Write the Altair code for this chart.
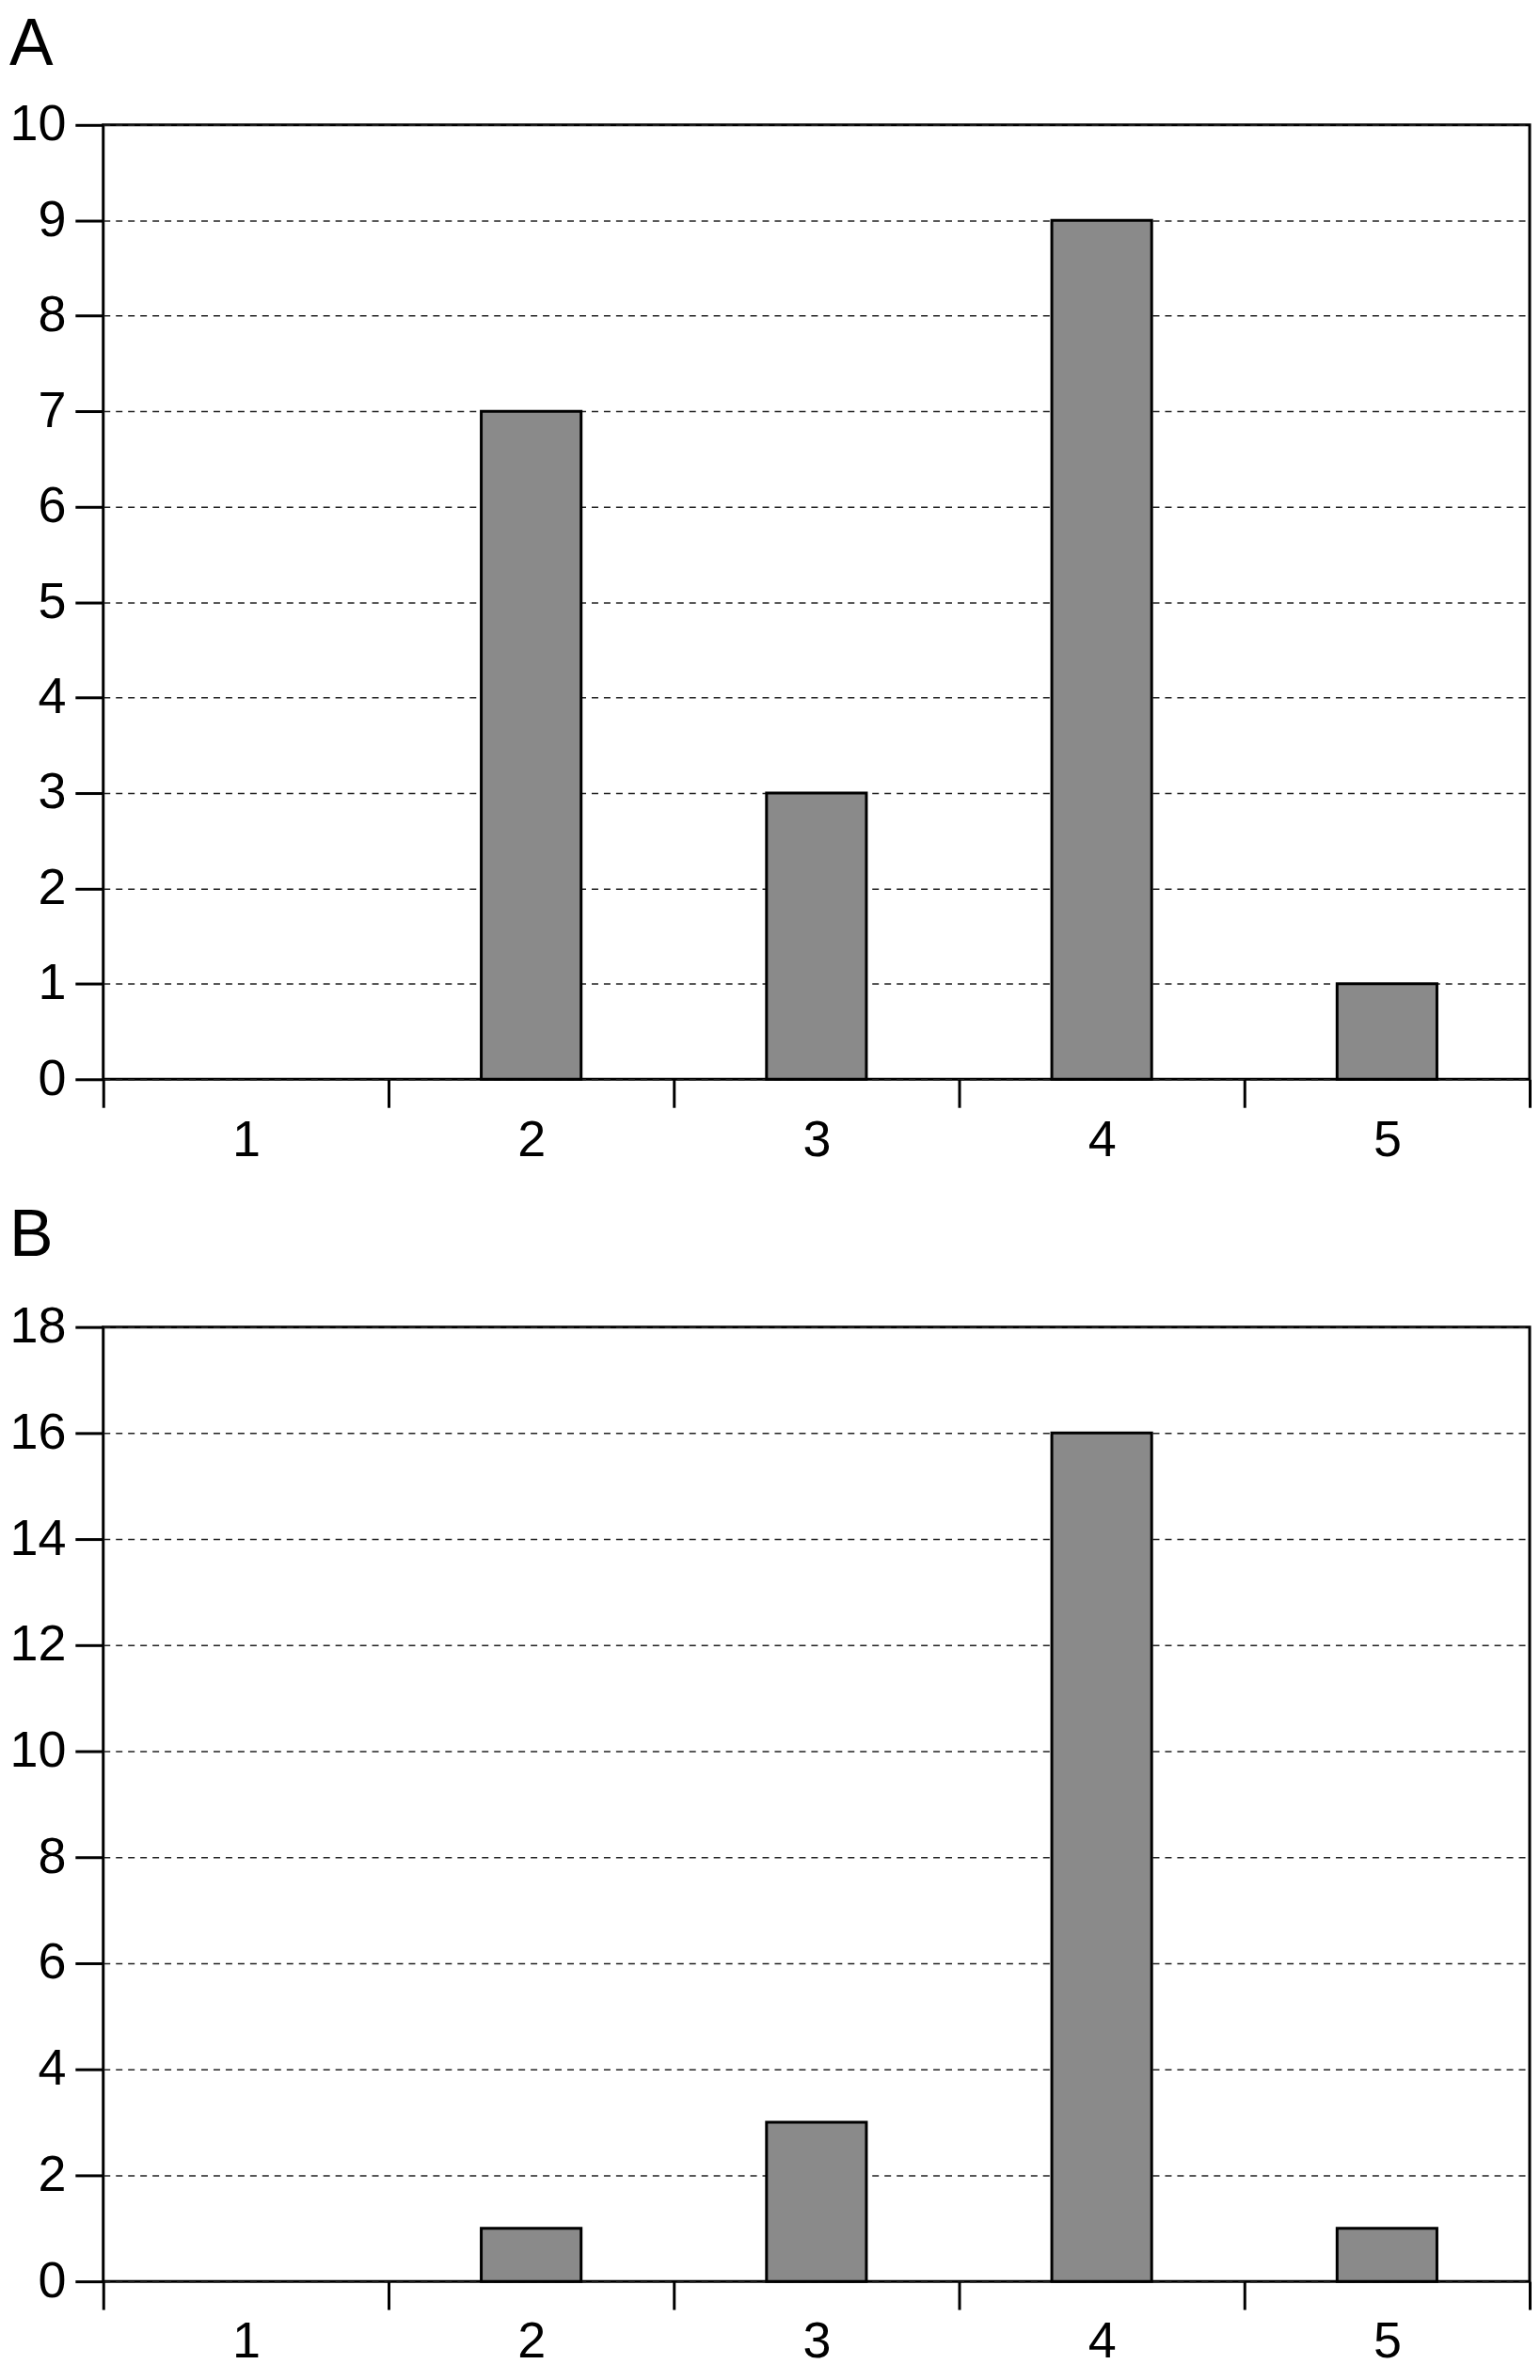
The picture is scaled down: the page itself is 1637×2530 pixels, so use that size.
import altair as alt
import pandas as pd

categories = [1, 2, 3, 4, 5]
values_a = [0, 7, 3, 9, 1]
values_b = [0, 1, 3, 16, 1]
yticks_a = list(range(0, 11, 1))
yticks_b = list(range(0, 19, 2))
xtick_labels = [1, 2, 3, 4, 5]
xtick_edges = [0.5, 1.5, 2.5, 3.5, 4.5, 5.5]
bar_halfwidth = 0.175
panel_titles = ["A", "B"]

FONT = "Liberation Sans"
W, H = 1520, 1017


def panel(values, title, yticks, title_offset):
    df = pd.DataFrame({"cat": categories, "val": values})
    df = df[df.val > 0].copy()
    df["x0"] = df.cat - bar_halfwidth
    df["x1"] = df.cat + bar_halfwidth
    xvals = sorted(xtick_labels + xtick_edges)
    bars = alt.Chart(df).mark_bar(
        color="#8a8a8a", stroke="black", strokeWidth=3
    ).encode(
        x=alt.X(
            "x0:Q",
            scale=alt.Scale(domain=[0.5, 5.5], nice=False, zero=False),
            axis=alt.Axis(
                values=xvals,
                labelExpr="datum.value % 1 === 0 ? '' + datum.value : ''",
                tickOpacity={"condition": {"test": "datum.value % 1 === 0", "value": 0}, "value": 1},
                tickSize=30, tickWidth=3, tickColor="black",
                domain=False, grid=False,
                labelFontSize=54, labelFont=FONT, labelColor="black",
                labelPadding=8, labelOverlap=False, labelFlush=False,
                title=None,
            ),
        ),
        x2="x1:Q",
        y=alt.Y(
            "val:Q",
            scale=alt.Scale(domain=[0, yticks[-1]], nice=False),
            axis=alt.Axis(
                values=yticks,
                tickSize=30, tickWidth=3, tickColor="black",
                domain=False,
                grid=True, gridDash=[7, 6], gridColor="#222222", gridWidth=1.5,
                labelFontSize=54, labelFont=FONT, labelColor="black",
                labelPadding=10, labelOverlap=False,
                title=None,
            ),
        ),
        y2=alt.datum(0),
    ).properties(
        width=W, height=H,
        title=alt.TitleParams(
            text=title, fontSize=70, font=FONT, fontWeight="normal",
            anchor="start", frame="bounds", offset=title_offset,
            color="black",
        ),
    )
    return bars


chart = alt.vconcat(
    panel(values_a, panel_titles[0], yticks_a, 22),
    panel(values_b, panel_titles[1], yticks_b, 34),
    spacing=36,
    padding={"left": 0, "top": 0, "right": 0, "bottom": 0},
).configure_view(stroke="black", strokeWidth=3).properties(
    background="white"
)

chart.save("out.html", embed_options={"renderer": "svg", "actions": False})
